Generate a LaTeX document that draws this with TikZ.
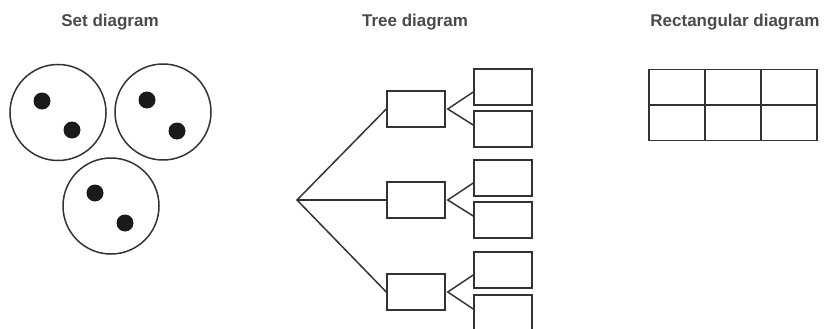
\documentclass[tikz,border=0pt]{standalone}
\usepackage{fontspec}
\setmainfont{Liberation Sans}
\definecolor{ttl}{HTML}{4A4A4A}
\definecolor{ln}{HTML}{333333}
\definecolor{dot}{HTML}{1A1A1A}
\tikzset{
  title/.style={font=\fontsize{17}{20}\selectfont\bfseries, text=ttl, anchor=base, inner sep=0pt},
  setcircle/.style={circle, draw=ln, line width=1.5pt, minimum size=96pt, inner sep=0pt},
  setdot/.style={circle, fill=dot, minimum size=17pt, inner sep=0pt},
  tbox/.style={rectangle, draw=ln, line width=1.5pt, minimum width=58pt, minimum height=36pt, inner sep=0pt},
  cell/.style={rectangle, draw=ln, line width=1.5pt, minimum width=56pt, minimum height=35.5pt, inner sep=0pt},
  conn/.style={draw=ln, line width=1.5pt},
}
\begin{document}
\begin{tikzpicture}[x=1pt,y=-1pt]
\useasboundingbox (0,0) rectangle (824,329);
\clip (0,0) rectangle (824,329);
% titles
\node[title] (t1) at (110,27) {Set diagram};
\node[title] (t2) at (415,27) {Tree diagram};
\node[title] (t3) at (735,27) {Rectangular diagram};
% set diagram
\node[setcircle] (c1) at (58,112.5) {};
\node[setcircle] (c2) at (163,112) {};
\node[setcircle] (c3) at (111,206) {};
\node[setdot] (d11) at (42,101) {};
\node[setdot] (d12) at (72,130) {};
\node[setdot] (d21) at (147,100) {};
\node[setdot] (d22) at (177,131) {};
\node[setdot] (d31) at (95,193) {};
\node[setdot] (d32) at (125,223) {};
% tree diagram
\coordinate (root) at (297,200);
\node[tbox] (m1) at (416,109) {};
\node[tbox] (m2) at (416,200) {};
\node[tbox] (m3) at (416,292) {};
\node[tbox] (l1) at (503,87) {};
\node[tbox] (l2) at (503,129) {};
\node[tbox] (l3) at (503,178) {};
\node[tbox] (l4) at (503,220) {};
\node[tbox] (l5) at (503,270) {};
\node[tbox] (l6) at (503,313) {};
\draw[conn] (m1.west) -- (root) -- (m3.west);
\draw[conn] (root) -- (m2.west);
\foreach \m/\a/\b in {m1/l1/l2, m2/l3/l4, m3/l5/l6}{
  \draw[conn, line join=miter] ([yshift=-5pt]\a.west) -- ([xshift=2pt]\m.east) -- ([yshift=4pt]\b.west);
}
% rectangular diagram
\node[cell] (r11) at (677,87) {};
\node[cell] (r12) at (733,87) {};
\node[cell] (r13) at (789,87) {};
\node[cell] (r21) at (677,122.5) {};
\node[cell] (r22) at (733,122.5) {};
\node[cell] (r23) at (789,122.5) {};
\end{tikzpicture}
\end{document}
